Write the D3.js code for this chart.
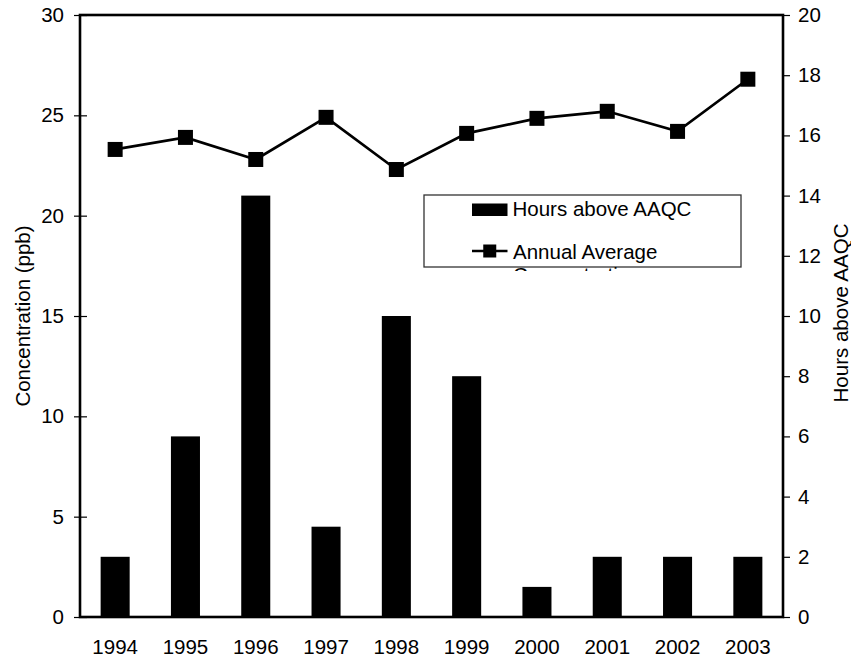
<!DOCTYPE html>
<html>
<head>
<meta charset="utf-8">
<script src="https://cdn.jsdelivr.net/npm/d3@7"></script>
<style>
  html, body { margin: 0; padding: 0; background: #fff; }
  svg { display: block; }
  text { font-family: "Liberation Sans", Arial, sans-serif; fill: #000; }
</style>
</head>
<body>
<svg id="chart" width="851" height="658"></svg>
<script>
// Years on the category axis
const years = ['1994', '1995', '1996', '1997', '1998', '1999', '2000', '2001', '2002', '2003'];
// Hours above AAQC per year (right axis, bars)
const hoursAbove = [2, 6, 14, 3, 10, 8, 1, 2, 2, 2];
// Annual average concentration in ppb (left axis, line)
const annualAverage = [23.3, 23.9, 22.8, 24.9, 22.3, 24.1, 24.85, 25.2, 24.2, 26.8];
// Axis tick values
const concTicks = [0, 5, 10, 15, 20, 25, 30];
const hoursTicks = [0, 2, 4, 6, 8, 10, 12, 14, 16, 18, 20];

(function draw() {
  const svg = d3.select('#chart');
  const pLeft = 80, pRight = 783, pTop = 15, pBottom = 617;
  const fontSize = 20.5;
  const fontFamily = '"Liberation Sans", Arial, sans-serif';

  const x = d3.scaleBand().domain(years).range([pLeft, pRight])
    .paddingInner(0.587).paddingOuter(0.2935);
  const yConc = d3.scaleLinear().domain([0, 30]).range([pBottom, pTop]);
  const yHours = d3.scaleLinear().domain([0, 20]).range([pBottom, pTop]);

  // Bars: hours above AAQC
  svg.append('g').selectAll('rect')
    .data(years.map((yr, i) => ({ yr, v: hoursAbove[i] })))
    .join('rect')
    .attr('x', d => x(d.yr))
    .attr('width', x.bandwidth())
    .attr('y', d => yHours(d.v))
    .attr('height', d => yHours(0) - yHours(d.v))
    .attr('fill', '#000');

  // Line: annual average concentration
  const pts = years.map((yr, i) => [x(yr) + x.bandwidth() / 2, yConc(annualAverage[i])]);
  svg.append('path')
    .attr('d', d3.line()(pts))
    .attr('fill', 'none')
    .attr('stroke', '#000')
    .attr('stroke-width', 2.7);
  const mk = 15;
  svg.append('g').selectAll('rect')
    .data(pts)
    .join('rect')
    .attr('x', d => d[0] - mk / 2)
    .attr('y', d => d[1] - mk / 2)
    .attr('width', mk)
    .attr('height', mk)
    .attr('fill', '#000');

  // Left axis (ticks cross the axis line)
  const leftAxis = d3.axisLeft(yConc).tickValues(concTicks).tickSize(6).tickPadding(10);
  const gL = svg.append('g').attr('transform', `translate(${pLeft},0)`).call(leftAxis);
  gL.select('.domain').remove();
  gL.selectAll('.tick line').attr('x2', -6).attr('x1', 7).attr('stroke', '#000').attr('stroke-width', 1.2);
  gL.selectAll('.tick text').attr('font-size', fontSize).attr('font-family', fontFamily);

  // Right axis
  const rightAxis = d3.axisRight(yHours).tickValues(hoursTicks).tickSize(7).tickPadding(8);
  const gR = svg.append('g').attr('transform', `translate(${pRight},0)`).call(rightAxis);
  gR.select('.domain').remove();
  gR.selectAll('.tick line').attr('stroke', '#000').attr('stroke-width', 1.2);
  gR.selectAll('.tick text').attr('font-size', fontSize).attr('font-family', fontFamily);

  // Bottom axis labels (no tick marks)
  const bottomAxis = d3.axisBottom(x).tickSize(0).tickPadding(22);
  const gB = svg.append('g').attr('transform', `translate(0,${pBottom})`).call(bottomAxis);
  gB.select('.domain').remove();
  gB.selectAll('.tick text').attr('font-size', fontSize).attr('font-family', fontFamily);

  // Plot frame
  svg.append('rect')
    .attr('x', pLeft).attr('y', pTop)
    .attr('width', pRight - pLeft).attr('height', pBottom - pTop)
    .attr('fill', 'none').attr('stroke', '#000').attr('stroke-width', 2.6);

  // Axis titles
  svg.append('text')
    .attr('transform', `translate(30,${(pTop + pBottom) / 2}) rotate(-90)`)
    .attr('text-anchor', 'middle')
    .attr('font-size', fontSize)
    .text('Concentration (ppb)');
  svg.append('text')
    .attr('transform', `translate(847.5,${(pTop + pBottom) / 2 - 3}) rotate(-90)`)
    .attr('text-anchor', 'middle')
    .attr('font-size', fontSize)
    .text('Hours above AAQC');

  // Legend
  const lg = { x: 424, y: 195, w: 317, h: 72 };
  svg.append('defs').append('clipPath').attr('id', 'legend-clip')
    .append('rect').attr('x', lg.x).attr('y', lg.y).attr('width', lg.w).attr('height', lg.h + 4);
  svg.append('rect')
    .attr('x', lg.x).attr('y', lg.y).attr('width', lg.w).attr('height', lg.h)
    .attr('fill', '#fff').attr('stroke', '#333').attr('stroke-width', 1.3);
  const lgG = svg.append('g').attr('clip-path', 'url(#legend-clip)');
  lgG.append('rect')
    .attr('x', 472).attr('y', 203.5).attr('width', 35.5).attr('height', 12.5).attr('fill', '#000');
  lgG.append('text').attr('x', 512.5).attr('y', 215.7).attr('font-size', fontSize).text('Hours above AAQC');
  lgG.append('line')
    .attr('x1', 472).attr('x2', 507.5).attr('y1', 251).attr('y2', 251)
    .attr('stroke', '#000').attr('stroke-width', 2.7);
  lgG.append('rect')
    .attr('x', 489.75 - 6.5).attr('y', 251 - 6.5).attr('width', 13).attr('height', 13).attr('fill', '#000');
  lgG.append('text').attr('x', 513).attr('y', 259.3).attr('font-size', fontSize).text('Annual Average');
  lgG.append('text').attr('x', 513).attr('y', 281.5).attr('font-size', fontSize).text('Concentration');
})();
</script>
</body>
</html>
